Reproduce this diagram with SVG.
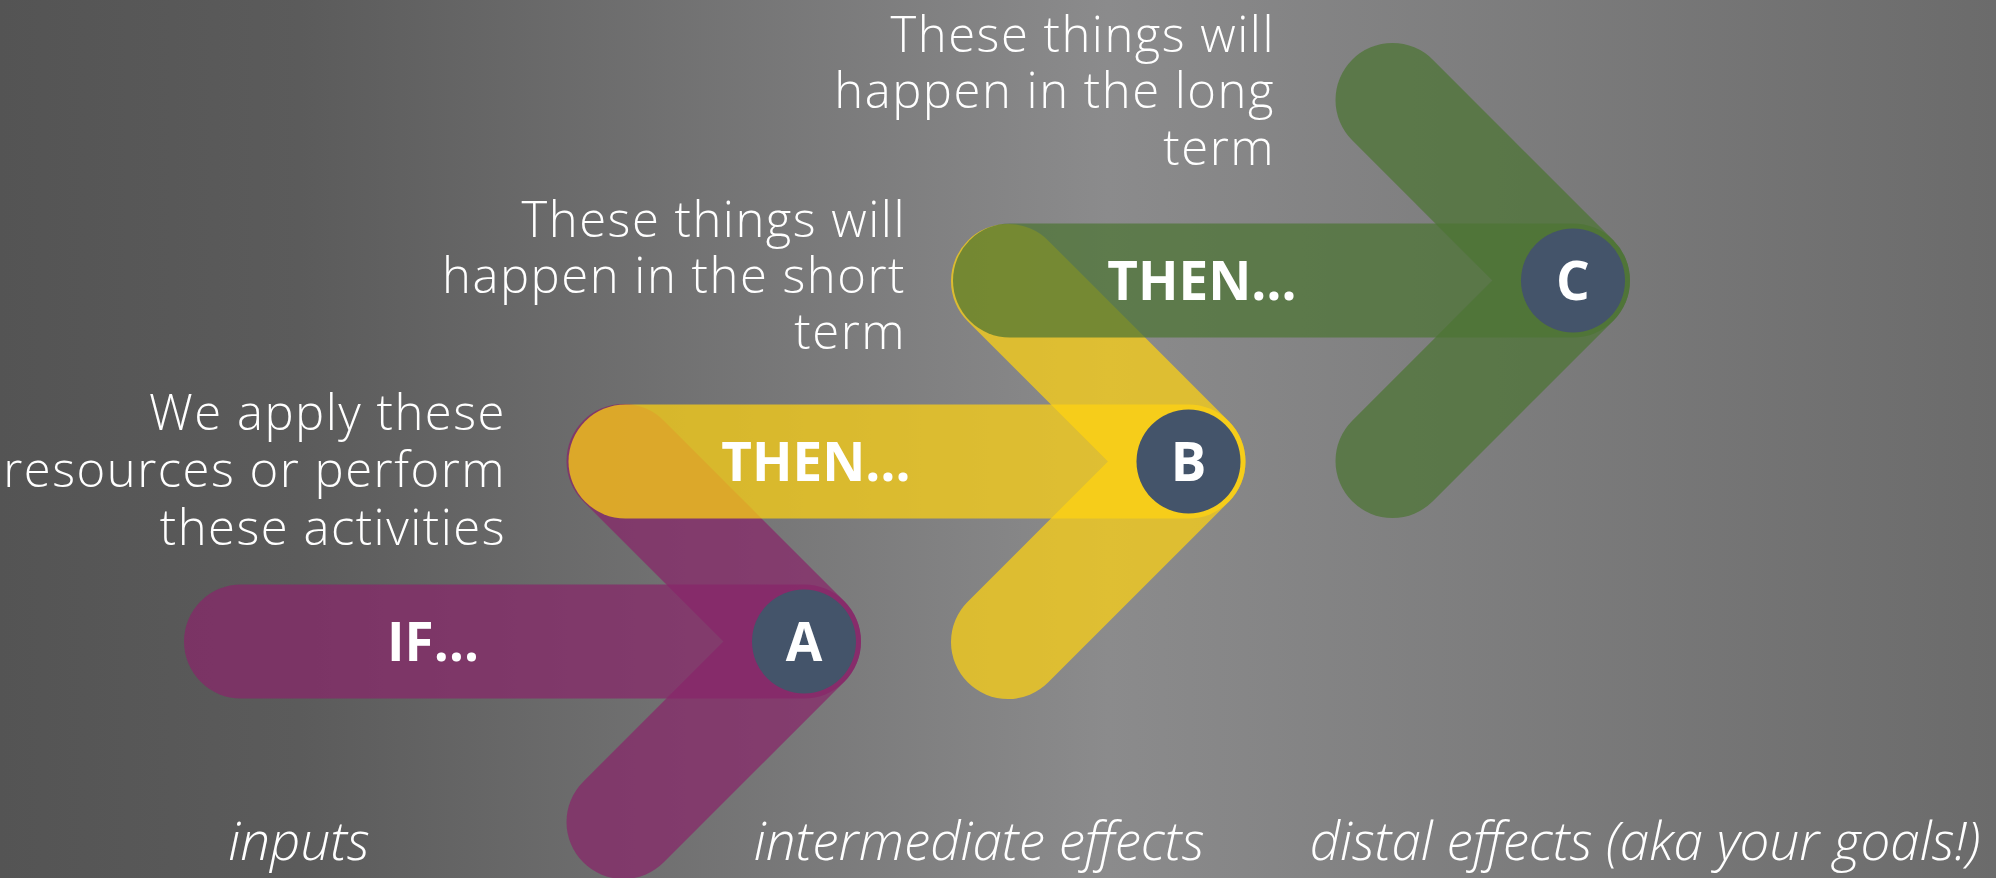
<svg xmlns="http://www.w3.org/2000/svg" width="1996" height="878" viewBox="0 0 1996 878">
  <defs>
    <linearGradient id="bg" x1="0" y1="0" x2="1" y2="0">
      <stop offset="0" stop-color="#545454"/>
      <stop offset="0.15" stop-color="#5b5b5b"/>
      <stop offset="0.555" stop-color="#8b8b8c"/>
      <stop offset="1" stop-color="#6b6b6b"/>
    </linearGradient>
  </defs>
  <style>
    .bar { fill: none; stroke-width: 114; stroke-linecap: round; stroke-linejoin: round; stroke-opacity: 0.72; }
    .purple { stroke: #882569; }
    .yellow { stroke: #ffd211; }
    .green { stroke: #4c7533; }
    .dot { fill: #44546a; }
    .desc { font-family: "Open Sans", "Noto Sans", sans-serif; font-weight: 300; font-size: 49px; letter-spacing: 1.5px; fill: #ffffff; text-anchor: end; }
    .lbl { font-family: "Open Sans", "Noto Sans", sans-serif; font-weight: 700; font-size: 53px; fill: #ffffff; text-anchor: middle; }
    .cap { font-family: "Open Sans", "Noto Sans", sans-serif; font-style: italic; font-weight: 300; font-size: 53px; fill: #ffffff; text-anchor: middle; }
  </style>
  <rect x="0" y="0" width="1996" height="878" fill="url(#bg)"/>

  <g id="arrow-a">
    <line class="bar purple" x1="241" y1="641.5" x2="804" y2="641.5"/>
    <polyline class="bar purple" points="623.5,461 804,641.5 623.5,822"/>
    <circle class="dot" cx="804" cy="641.5" r="52"/>
    <text class="lbl" x="433" y="661">IF…</text>
    <text class="lbl" x="804" y="661">A</text>
  </g>

  <g id="arrow-b">
    <line class="bar yellow" x1="625.5" y1="461.5" x2="1188.5" y2="461.5"/>
    <polyline class="bar yellow" points="1008,281 1188.5,461.5 1008,642"/>
    <circle class="dot" cx="1188.5" cy="461.5" r="52"/>
    <text class="lbl" x="816" y="481">THEN…</text>
    <text class="lbl" x="1188.5" y="481">B</text>
  </g>

  <g id="arrow-c">
    <line class="bar green" x1="1010" y1="280.5" x2="1573" y2="280.5"/>
    <polyline class="bar green" points="1392.5,100 1573,280.5 1392.5,461"/>
    <circle class="dot" cx="1573" cy="280.5" r="52"/>
    <text class="lbl" x="1202" y="300">THEN…</text>
    <text class="lbl" x="1573" y="300">C</text>
  </g>

  <g id="text-inputs">
    <text class="desc" x="506" y="430">We apply these</text>
    <text class="desc" x="506" y="487">resources or perform</text>
    <text class="desc" x="506" y="545">these activities</text>
  </g>
  <g id="text-short">
    <text class="desc" x="906" y="237">These things will</text>
    <text class="desc" x="906" y="293">happen in the short</text>
    <text class="desc" x="906" y="349">term</text>
  </g>
  <g id="text-long">
    <text class="desc" x="1275" y="52">These things will</text>
    <text class="desc" x="1275" y="108">happen in the long</text>
    <text class="desc" x="1275" y="165">term</text>
  </g>

  <g id="captions">
    <text class="cap" x="299" y="860">inputs</text>
    <text class="cap" x="979" y="860">intermediate effects</text>
    <text class="cap" x="1645" y="860">distal effects (aka your goals!)</text>
  </g>
</svg>
